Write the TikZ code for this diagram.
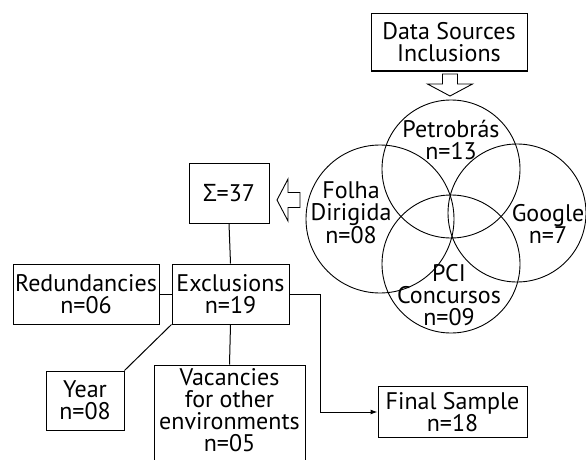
\documentclass[tikz,border=0pt]{standalone}
\usepackage{fontspec}
\setmainfont{PT Sans}
\newfontfamily\grk{Open Sans}
\usetikzlibrary{arrows.meta,calc}
\begin{document}
\begin{tikzpicture}[x=1pt,y=-1pt,
  every node/.style={font=\fontsize{24}{22}\selectfont, align=center, inner sep=0pt},
  box/.style={draw, line width=1pt},
  ring/.style={draw, circle, line width=0.9pt, inner sep=0pt},
  link/.style={line width=1pt},
  hollow/.style={draw, line width=0.9pt, fill=white, line join=miter}]
\useasboundingbox (0,0) rectangle (586,460);
% Venn circles
\node[ring, minimum size=138pt] (petro) at (451,169) {};
\node[ring, minimum size=148pt] (folha) at (380,219) {};
\node[ring, minimum size=138pt] (google) at (517,213) {};
\node[ring, minimum size=138pt] (pci) at (451,264) {};
\node (tpetro) at (451,140) {Petrobrás\\n=13};
\node (tfolha) at (351,213) {Folha\\Dirigida\\n=08};
\node (tgoogle) at (548,224) {Google\\n=7};
\node (tpci) at (449,295) {PCI\\Concursos\\n=09};
% boxes
\node[box, minimum width=156pt, minimum height=57pt] (data) at (449,42.5) {Data Sources\\Inclusions};
\node[box, minimum width=80pt, minimum height=60pt] (sum) at (229,193) {{\grk Σ}=37};
\node[box, minimum width=117pt, minimum height=60pt] (excl) at (230.5,294) {Exclusions\\n=19};
\node[box, minimum width=146pt, minimum height=60pt] (red) at (86,294) {Redundancies\\n=06};
\node[box, minimum width=78pt, minimum height=59pt] (year) at (85,400.5) {Year\\n=08};
\node[box, minimum width=151pt, minimum height=97pt] (vac) at (229.5,413.5) {};
\node (vact) at (229.5,410) {Vacancies\\for other\\environments\\n=05};
\node[box, minimum width=149pt, minimum height=51pt] (final) at (452.5,412) {Final Sample\\n=18};
% hollow arrows
\draw[hollow] (442.5,74) -- (457.5,74) -- (457.5,84) -- (472.5,84) -- (450,96)
  -- (427.5,84) -- (442.5,84) -- cycle;
\draw[hollow] (300,192.5) -- (300,207.5) -- (288,207.5) -- (288,221) -- (277,200)
  -- (288,179) -- (288,192.5) -- cycle;
% connectors
\draw[link] (sum.south) -- (excl.north);
\draw[link] (excl.west) -- (red.east);
\draw[link] (excl.south west) -- (year.north east);
\draw[link] (excl.south) -- (vac.north);
\coordinate (bend) at (320,294);
\draw[link, -{Latex[length=7pt,width=5pt]}] (excl.east) -- (bend) |- (final.west);
\end{tikzpicture}
\end{document}
